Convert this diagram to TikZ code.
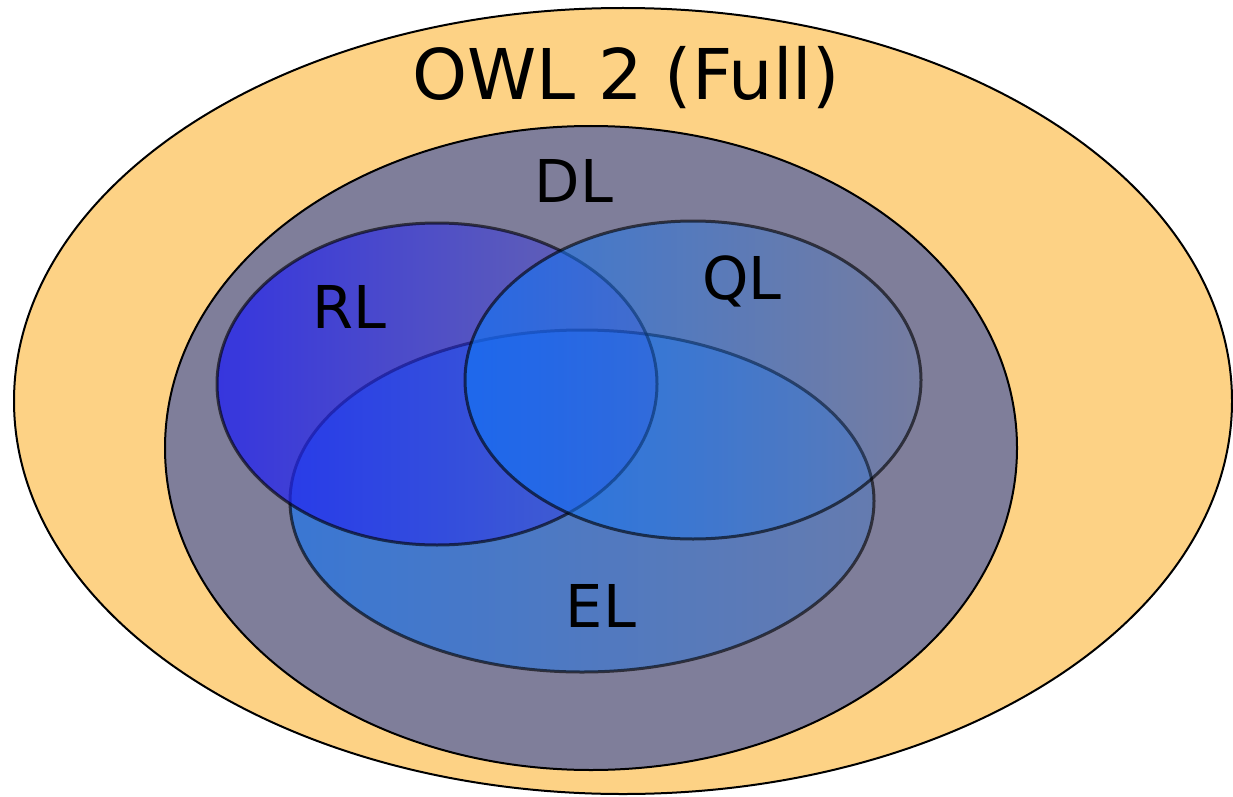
\documentclass[tikz,border=0pt]{standalone}
\usepackage{fontspec}
\setmainfont{DejaVu Sans}
\usetikzlibrary{fadings}

% each profile fades from a strong tint on the left to a faint one on the right
\tikzfading[name=fadeRL, left color=transparent!22, right color=transparent!78]
\tikzfading[name=fadeEL, left color=transparent!36, right color=transparent!76]
\tikzfading[name=fadeQL, left color=transparent!32, right color=transparent!92]

\definecolor{owlFill}{HTML}{FDD285}
\definecolor{dlFill}{HTML}{7F7E9A}
\definecolor{rlBlue}{HTML}{2222F2}
\definecolor{qlBlue}{HTML}{1474F4}

\tikzset{
  outerline/.style={draw=black, line width=2},
  innerline/.style={draw=black, draw opacity=0.62, line width=3},
  biglabel/.style={inner sep=0, anchor=base, font=\fontsize{70}{84}\selectfont},
  setlabel/.style={inner sep=0, anchor=base, font=\fontsize{59}{70}\selectfont},
}

\begin{document}
\begin{tikzpicture}[x=1pt, y=-1pt]
  \useasboundingbox (0,0) rectangle (1233,797);

  % OWL 2 Full
  \path[outerline, fill=owlFill] (623,401) ellipse [x radius=609, y radius=393];
  % DL
  \path[outerline, fill=dlFill] (591,448) ellipse [x radius=426, y radius=322];

  % EL
  \fill[qlBlue, path fading=fadeEL] (582,501) ellipse [x radius=292, y radius=171];
  \path[innerline] (582,501) ellipse [x radius=292, y radius=171];
  % RL
  \fill[rlBlue, path fading=fadeRL] (437,384) ellipse [x radius=220, y radius=161];
  \path[innerline] (437,384) ellipse [x radius=220, y radius=161];
  % QL
  \fill[qlBlue, path fading=fadeQL] (693,380) ellipse [x radius=228, y radius=159];
  \path[innerline] (693,380) ellipse [x radius=228, y radius=159];

  \node[biglabel] (owl) at (626,100) {OWL 2 (Full)};
  \node[setlabel] (dl) at (574,202) {DL};
  \node[setlabel] (rl) at (349,328) {RL};
  \node[setlabel] (ql) at (742,299) {QL};
  \node[setlabel] (el) at (601,627) {EL};
\end{tikzpicture}
\end{document}
